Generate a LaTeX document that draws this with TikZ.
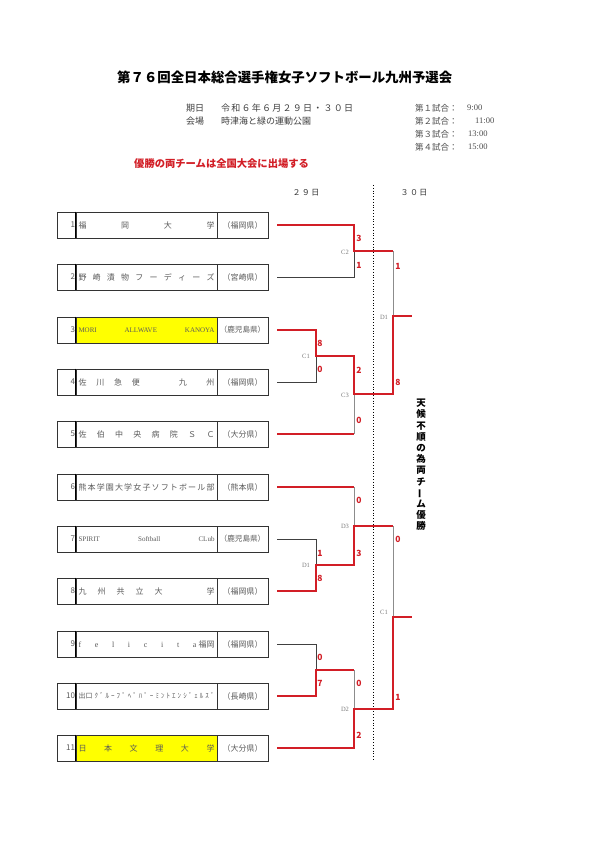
\documentclass[tikz,border=0pt]{standalone}
\usepackage{fontspec}
\setmainfont{Noto Sans CJK JP}
\newfontfamily\lat{Liberation Serif}
\definecolor{wred}{RGB}{210,30,38}
\definecolor{txtg}{RGB}{90,90,90}
\definecolor{labg}{RGB}{125,125,125}
\definecolor{hiyel}{RGB}{255,255,0}
\tikzset{
  cell/.style={draw=black!80, line width=0.6pt, minimum height=26pt, inner sep=0pt, text=txtg},
  numcell/.style={cell, minimum width=19pt, text width=17pt, align=right, font=\fontsize{8}{9}\selectfont},
  namecell/.style={cell, minimum width=141pt, font=\fontsize{8}{9}\selectfont},
  prefcell/.style={cell, minimum width=51pt, font=\fontsize{8}{9}\selectfont},
  win/.style={draw=wred, line width=2pt, line join=miter},
  lose/.style={draw=black!75, line width=0.7pt},
  grayline/.style={draw=black!45, line width=0.7pt},
  score/.style={text=wred, font=\fontsize{8.5}{9}\selectfont\bfseries, inner sep=0pt},
  jlab/.style={text=labg, font=\lat\fontsize{6.5}{7}\selectfont, inner sep=0pt},
  plain/.style={inner sep=0pt, anchor=west}
}
\newcommand{\teamrow}[5]{%
  \node[numcell] (n#1) at (66.5,#2) {#1};
  \node[namecell,#5] (m#1) at (146.5,#2) {#3};
  \node[prefcell] (p#1) at (242.5,#2) {#4};
  \draw[line width=1.2pt] (m#1.north west) -- (m#1.south west);
  \coordinate (e#1) at (277,#2);
}
\newcommand{\spreadname}[1]{\makebox[136pt][s]{#1}}
\newcommand{\bigfill}{\hfill\hfill\hfill\hfill}
\begin{document}
\begin{tikzpicture}[x=1pt,y=-1pt]
\useasboundingbox[fill=white] (0,0) rectangle (595,842);

% title and header
\node[plain, font=\fontsize{13.4}{14}\selectfont\bfseries] (title) at (117,77) {第７６回全日本総合選手権女子ソフトボール九州予選会};
\node[plain, font=\fontsize{9}{10}\selectfont, text=black!75] (dateh) at (186,108) {期日};
\node[plain, font=\fontsize{9}{10}\selectfont, text=black!75] (date) at (221,108) {\makebox[132pt][s]{令\hfill 和\hfill ６\hfill 年\hfill ６\hfill 月\hfill ２\hfill ９\hfill 日\hfill ・\hfill ３\hfill ０\hfill 日}};
\node[plain, font=\fontsize{9}{10}\selectfont, text=black!75] (placeh) at (186,121) {会場};
\node[plain, font=\fontsize{9}{10}\selectfont, text=black!75] (place) at (221,121) {時津海と緑の運動公園};
\node[plain, font=\fontsize{8.5}{10}\selectfont, text=black!70] (g1) at (415,108) {第１試合：};
\node[plain, font=\lat\fontsize{8.5}{10}\selectfont, text=black!70] (g1t) at (467,108) {9:00};
\node[plain, font=\fontsize{8.5}{10}\selectfont, text=black!70] (g2) at (415,121) {第２試合：};
\node[plain, font=\lat\fontsize{8.5}{10}\selectfont, text=black!70] (g2t) at (475,121) {11:00};
\node[plain, font=\fontsize{8.5}{10}\selectfont, text=black!70] (g3) at (415,134) {第３試合：};
\node[plain, font=\lat\fontsize{8.5}{10}\selectfont, text=black!70] (g3t) at (468,134) {13:00};
\node[plain, font=\fontsize{8.5}{10}\selectfont, text=black!70] (g4) at (415,147) {第４試合：};
\node[plain, font=\lat\fontsize{8.5}{10}\selectfont, text=black!70] (g4t) at (468,147) {15:00};
\node[plain, font=\fontsize{10.3}{11}\selectfont\bfseries, text=wred] (note) at (134,164) {優勝の両チームは全国大会に出場する};
\node[font=\fontsize{8}{9}\selectfont, text=black!80, inner sep=0pt] (day29) at (306,193) {２\,９\,日};
\node[font=\fontsize{8}{9}\selectfont, text=black!80, inner sep=0pt] (day30) at (414,193) {３\,０\,日};

% teams
\teamrow{1}{225}{\spreadname{福\hfill 岡\hfill 大\hfill 学}}{（福岡県）}{}
\teamrow{2}{277}{\spreadname{野\hfill 崎\hfill 漬\hfill 物\hfill フ\hfill ー\hfill デ\hfill ィ\hfill ー\hfill ズ}}{（宮崎県）}{}
\teamrow{3}{330}{\spreadname{\lat\fontsize{7}{8}\selectfont MORI\hfill ALLWAVE\hfill KANOYA}}{\fontsize{7.6}{9}\selectfont（鹿児島県）}{fill=hiyel}
\teamrow{4}{382}{\spreadname{佐\hfill 川\hfill 急\hfill 便\bigfill 九\hfill\hfill 州}}{（福岡県）}{}
\teamrow{5}{434}{\spreadname{佐\hfill 伯\hfill 中\hfill 央\hfill 病\hfill 院\hfill Ｓ\hfill Ｃ}}{（大分県）}{}
\teamrow{6}{487}{\spreadname{熊\hfill 本\hfill 学\hfill 園\hfill 大\hfill 学\hfill 女\hfill 子\hfill ソ\hfill フ\hfill ト\hfill ボ\hfill ー\hfill ル\hfill 部}}{（熊本県）}{}
\teamrow{7}{539}{\spreadname{\lat\fontsize{7}{8}\selectfont SPIRIT\hfill Softball\hfill CLub}}{\fontsize{7.6}{9}\selectfont（鹿児島県）}{}
\teamrow{8}{591}{\spreadname{九\hfill 州\hfill 共\hfill 立\hfill 大\bigfill 学}}{（福岡県）}{}
\teamrow{9}{644}{\spreadname{{\lat f\hfill e\hfill l\hfill i\hfill c\hfill i\hfill t\hfill a}\hspace{2pt}福岡}}{（福岡県）}{}
\teamrow{10}{696}{\spreadname{\fontsize{7}{8}\selectfont 出口\hfill ｸ\hfill ﾞ\hfill ﾙ\hfill ｰ\hfill ﾌ\hfill ﾟ\hfill ﾍ\hfill ﾟ\hfill ﾊ\hfill ﾟ\hfill ｰ\hfill ﾐ\hfill ﾝ\hfill ﾄ\hfill ｴ\hfill ﾝ\hfill ｼ\hfill ﾞ\hfill ｪ\hfill ﾙ\hfill ｽ\hfill ﾞ}}{（長崎県）}{}
\teamrow{11}{748}{\spreadname{日\hfill 本\hfill 文\hfill 理\hfill 大\hfill 学}}{（大分県）}{fill=hiyel}

% bracket coordinates, top half
\coordinate (t1) at (354,225);
\coordinate (t2) at (354,277);
\coordinate (c2) at (354,251);
\coordinate (d1a) at (393,251);
\coordinate (d1) at (393,316);
\coordinate (d1b) at (393,394);
\coordinate (d1o) at (412,316);
\coordinate (t3) at (316,330);
\coordinate (t4) at (316,382);
\coordinate (c1) at (316,356);
\coordinate (c3a) at (354,356);
\coordinate (c3) at (354,394);
\coordinate (t5) at (354,434);
% bottom half
\coordinate (t6) at (354,487);
\coordinate (d3) at (354,526);
\coordinate (d3b) at (354,565);
\coordinate (t7) at (316,539);
\coordinate (t8) at (316,591);
\coordinate (dl) at (316,565);
\coordinate (c1ra) at (393,526);
\coordinate (c1r) at (393,617);
\coordinate (c1rb) at (393,709);
\coordinate (c1o) at (412,617);
\coordinate (t9) at (316,644);
\coordinate (t10) at (316,696);
\coordinate (jl) at (316,670);
\coordinate (d2a) at (354,670);
\coordinate (d2) at (354,709);
\coordinate (t11) at (354,748);
\coordinate (dtop) at (373,185);
\coordinate (dbot) at (373,760);

\draw[dotted, line width=0.8pt] (dtop) -- (dbot);

% losers / gray
\draw[lose] (e2) -- (t2) -- (c2);
\draw[grayline] (d1a) -- (d1);
\draw[lose] (e4) -- (t4) -- (c1);
\draw[grayline] (t5) -- (c3);
\draw[grayline] (t6) -- (d3);
\draw[lose] (e7) -- (t7) -- (dl);
\draw[grayline] (c1ra) -- (c1r);
\draw[lose] (e9) -- (t9) -- (jl);
\draw[grayline] (d2a) -- (d2);

% winners
\draw[win] (e1) -- (t1) -- (c2) -- (d1a);
\draw[win] (e3) -- (t3) -- (c1) -- (c3a) -- (c3) -- (d1b) -- (d1) -- (d1o);
\draw[win] (e5) -- (t5);
\draw[win] (e6) -- (t6);
\draw[win] (e8) -- (t8) -- (dl) -- (d3b) -- (d3) -- (c1ra);
\draw[win] (e10) -- (t10) -- (jl) -- (d2a);
\draw[win] (e11) -- (t11) -- (d2) -- (c1rb) -- (c1r) -- (c1o);

% junction labels
\node[jlab] (lc2) at (345,252) {C2};
\node[jlab] (lc1) at (306,356) {C1};
\node[jlab] (lc3) at (345,395) {C3};
\node[jlab] (ld1) at (384,317) {D1};
\node[jlab] (ld3) at (345,526) {D3};
\node[jlab] (ld1b) at (306,565) {D1};
\node[jlab] (lc1r) at (384,612) {C1};
\node[jlab] (ld2) at (345,709) {D2};

% scores
\node[score] (s1) at (359,238) {3};
\node[score] (s2) at (359,265) {1};
\node[score] (s3) at (398,266) {1};
\node[score] (s4) at (398,382) {8};
\node[score] (s5) at (320,343) {8};
\node[score] (s6) at (320,369) {0};
\node[score] (s7) at (359,370) {2};
\node[score] (s8) at (359,420) {0};
\node[score] (s9) at (359,500) {0};
\node[score] (s10) at (359,553) {3};
\node[score] (s11) at (320,553) {1};
\node[score] (s12) at (320,578) {8};
\node[score] (s13) at (398,539) {0};
\node[score] (s14) at (398,697) {1};
\node[score] (s15) at (320,657) {0};
\node[score] (s16) at (320,683) {7};
\node[score] (s17) at (359,683) {0};
\node[score] (s18) at (359,735) {2};

% vertical note
\node[font=\fontsize{9.5}{11.2}\selectfont\bfseries, align=center, inner sep=0pt] (vnote) at (421,465) {天\\候\\不\\順\\の\\為\\両\\チ\\\rotatebox[origin=c]{90}{ー}\\ム\\優\\勝};
\end{tikzpicture}
\end{document}
